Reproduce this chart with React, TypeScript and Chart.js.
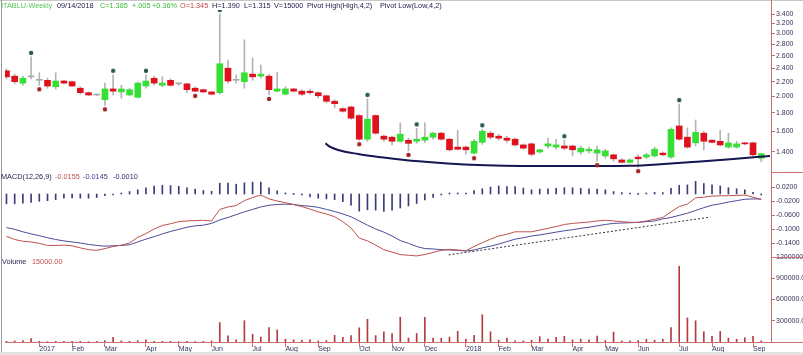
import React, { useEffect, useRef } from 'react';
import { Chart, registerables } from 'chart.js';

Chart.register(...registerables);

// ---------- weekly candles (Dec 9 2016 .. Sep 14 2018) ----------
const openP = [
  2.36, 2.28, 2.18, 2.27, 2.22, 2.22, 2.13, 2.21, 2.20, 2.11,
  2.05, 2.02, 1.96, 2.10, 2.06, 2.02, 1.99, 2.14, 2.25, 2.15,
  2.22, 2.17, 2.17, 2.11, 2.09, 2.06, 2.05, 2.40, 2.22, 2.20,
  2.31, 2.28, 2.28, 2.07, 2.03, 2.10, 2.07, 2.07, 2.05, 2.01,
  1.94, 1.85, 1.87, 1.77, 1.52, 1.77, 1.55, 1.54, 1.50, 1.51,
  1.50, 1.51, 1.54, 1.58, 1.52, 1.445, 1.445, 1.39, 1.49, 1.58,
  1.55, 1.53, 1.52, 1.465, 1.475, 1.40, 1.455, 1.445, 1.455, 1.455,
  1.40, 1.41, 1.39, 1.365, 1.375, 1.33, 1.31, 1.355, 1.355, 1.365,
  1.39, 1.355, 1.655, 1.54, 1.485, 1.58, 1.51, 1.50, 1.445, 1.445,
  1.485, 1.485, 1.345,
];
const highP = [
  2.39, 2.31, 2.28, 2.58, 2.33, 2.25, 2.33, 2.22, 2.21, 2.13,
  2.06, 2.03, 2.18, 2.30, 2.15, 2.11, 2.20, 2.30, 2.28, 2.27,
  2.24, 2.18, 2.18, 2.13, 2.10, 2.07, 3.40, 2.53, 2.30, 2.88,
  2.56, 2.45, 2.31, 2.34, 2.13, 2.11, 2.09, 2.09, 2.06, 2.02,
  1.96, 1.86, 1.88, 1.78, 1.97, 1.78, 1.56, 1.55, 1.69, 1.53,
  1.63, 1.69, 1.59, 1.59, 1.53, 1.61, 1.455, 1.52, 1.62, 1.60,
  1.57, 1.55, 1.53, 1.475, 1.485, 1.425, 1.53, 1.52, 1.51, 1.465,
  1.455, 1.445, 1.455, 1.425, 1.38, 1.34, 1.34, 1.375, 1.39, 1.445,
  1.40, 1.635, 1.905, 1.635, 1.72, 1.60, 1.52, 1.61, 1.58, 1.50,
  1.49, 1.49, 1.39,
];
const lowP = [
  2.24, 2.17, 2.15, 2.24, 2.15, 2.11, 2.10, 2.17, 2.13, 2.03,
  2.01, 2.01, 1.89, 2.02, 1.98, 2.01, 1.98, 2.11, 2.15, 2.13,
  2.14, 2.15, 2.05, 2.06, 2.05, 2.02, 2.03, 2.18, 2.18, 2.11,
  2.22, 2.25, 2.02, 2.06, 2.02, 2.06, 2.01, 2.03, 1.98, 1.92,
  1.86, 1.81, 1.73, 1.51, 1.50, 1.57, 1.50, 1.465, 1.49, 1.41,
  1.48, 1.49, 1.52, 1.51, 1.41, 1.42, 1.38, 1.38, 1.47, 1.52,
  1.51, 1.49, 1.455, 1.425, 1.365, 1.39, 1.435, 1.425, 1.42, 1.365,
  1.38, 1.39, 1.32, 1.345, 1.32, 1.305, 1.305, 1.27, 1.34, 1.355,
  1.365, 1.345, 1.51, 1.435, 1.455, 1.42, 1.485, 1.455, 1.435, 1.435,
  1.465, 1.365, 1.315,
];
const closeP = [
  2.27, 2.20, 2.25, 2.27, 2.22, 2.14, 2.21, 2.18, 2.14, 2.05,
  2.02, 2.02, 2.10, 2.07, 2.10, 2.09, 2.18, 2.21, 2.18, 2.18,
  2.15, 2.17, 2.09, 2.07, 2.06, 2.03, 2.47, 2.21, 2.22, 2.33,
  2.27, 2.31, 2.09, 2.10, 2.10, 2.07, 2.03, 2.05, 2.01, 1.94,
  1.91, 1.82, 1.74, 1.52, 1.73, 1.58, 1.52, 1.50, 1.57, 1.48,
  1.52, 1.54, 1.58, 1.52, 1.42, 1.425, 1.42, 1.50, 1.60, 1.54,
  1.53, 1.51, 1.465, 1.435, 1.38, 1.42, 1.475, 1.465, 1.435, 1.42,
  1.435, 1.425, 1.42, 1.41, 1.34, 1.31, 1.33, 1.34, 1.375, 1.425,
  1.375, 1.62, 1.52, 1.445, 1.59, 1.50, 1.49, 1.465, 1.485, 1.475,
  1.475, 1.375, 1.385,
];
const volume = [
  10000, 15000, 20000, 50000, 10000, 5000, 10000, 8000, 10000, 10000,
  5000, 8000, 20000, 65000, 15000, 10000, 20000, 30000, 8000, 10000,
  10000, 5000, 10000, 5000, 10000, 15000, 275000, 86000, 30000, 300000,
  110000, 70000, 205000, 170000, 40000, 30000, 25000, 30000, 15000, 20000,
  95000, 65000, 90000, 200000, 320000, 90000, 145000, 120000, 350000, 57000,
  120000, 350000, 55000, 55000, 70000, 150000, 40000, 95000, 385000, 145000,
  25000, 55000, 15000, 15000, 25000, 75000, 40000, 65000, 80000, 30000,
  40000, 30000, 85000, 20000, 140000, 15000, 15000, 20000, 40000, 25000,
  40000, 205000, 1070000, 340000, 300000, 145000, 80000, 150000, 55000, 40000,
  60000, 80000, 15000,
];
const macdLine = [
  -0.121, -0.130, -0.135, -0.137, -0.141, -0.147, -0.147, -0.146, -0.148, -0.154,
  -0.159, -0.161, -0.156, -0.150, -0.146, -0.140, -0.124, -0.113, -0.100, -0.090,
  -0.085, -0.079, -0.077, -0.076, -0.075, -0.077, -0.044, -0.037, -0.033, -0.019,
  -0.010, -0.003, -0.014, -0.020, -0.025, -0.030, -0.036, -0.043, -0.051, -0.057,
  -0.065, -0.079, -0.097, -0.126, -0.134, -0.146, -0.159, -0.166, -0.173, -0.175,
  -0.177, -0.173, -0.167, -0.161, -0.158, -0.160, -0.162, -0.150, -0.139, -0.129,
  -0.120, -0.115, -0.108, -0.108, -0.108, -0.103, -0.098, -0.093, -0.087, -0.084,
  -0.082, -0.080, -0.077, -0.075, -0.077, -0.079, -0.081, -0.081, -0.077, -0.072,
  -0.067, -0.051, -0.036, -0.029, -0.011, -0.009, -0.006, -0.005, -0.005, -0.004,
  -0.003, -0.009, -0.0155,
];
const signalLine = [
  -0.096, -0.101, -0.108, -0.114, -0.119, -0.125, -0.130, -0.134, -0.137, -0.140,
  -0.144, -0.147, -0.149, -0.148, -0.147, -0.145, -0.137, -0.129, -0.122, -0.114,
  -0.107, -0.101, -0.095, -0.091, -0.089, -0.084, -0.074, -0.067, -0.059, -0.051,
  -0.044, -0.037, -0.032, -0.030, -0.029, -0.030, -0.033, -0.035, -0.038, -0.044,
  -0.050, -0.057, -0.065, -0.077, -0.089, -0.100, -0.109, -0.120, -0.133, -0.141,
  -0.150, -0.156, -0.157, -0.159, -0.160, -0.161, -0.163, -0.160, -0.154, -0.149,
  -0.143, -0.136, -0.129, -0.125, -0.120, -0.117, -0.113, -0.109, -0.105, -0.102,
  -0.098, -0.095, -0.091, -0.087, -0.084, -0.083, -0.082, -0.081, -0.079, -0.077,
  -0.071, -0.067, -0.061, -0.055, -0.047, -0.039, -0.032, -0.028, -0.023, -0.019,
  -0.015, -0.014, -0.0145,
];
const macdHist = [
  -0.028, -0.028, -0.026, -0.024, -0.021, -0.019, -0.016, -0.012, -0.011, -0.012,
  -0.012, -0.010, -0.005, -0.001, 0.002, 0.007, 0.012, 0.018, 0.023, 0.025,
  0.024, 0.022, 0.018, 0.014, 0.010, 0.008, 0.031, 0.031, 0.028, 0.032,
  0.034, 0.034, 0.018, 0.009, 0.003, 0.000, -0.003, -0.008, -0.012, -0.014,
  -0.016, -0.022, -0.032, -0.049, -0.045, -0.046, -0.050, -0.046, -0.040, -0.034,
  -0.027, -0.017, -0.010, -0.002, 0.002, 0.001, 0.001, 0.010, 0.015, 0.020,
  0.023, 0.021, 0.021, 0.017, 0.012, 0.014, 0.015, 0.016, 0.018, 0.018,
  0.016, 0.015, 0.014, 0.012, 0.007, 0.004, 0.001, 0.000, 0.002, 0.005,
  0.004, 0.016, 0.025, 0.026, 0.036, 0.030, 0.026, 0.023, 0.018, 0.015,
  0.012, 0.005, -0.001,
];
const pivotHighIdx = [3, 13, 17, 26, 44, 50, 58, 68, 82];
const pivotLowIdx = [4, 12, 23, 32, 43, 49, 57, 72, 77];

// hand-drawn annotations (week index, value)
const arcX = [38.88, 39.4, 40.43, 42.86, 45.69, 48.52, 52.58, 56.62, 60.67, 65.13, 72.02, 76.06, 80.11, 84.17, 88.21, 93.07];
const arcY = [1.481, 1.449, 1.418, 1.382, 1.353, 1.33, 1.307, 1.29, 1.282, 1.28, 1.28, 1.282, 1.296, 1.315, 1.336, 1.365];
const trendX = [53.9, 85.8];
const trendY = [-0.174, -0.066];

// axes
const monthTickIdx = [4, 8, 12, 17, 21, 25, 30, 34, 38, 43, 47, 51, 56, 60, 64, 69, 73, 77, 82, 86, 91];
const monthTickLabels = ['2017', 'Feb', 'Mar', 'Apr', 'May', 'Jun', 'Jul', 'Aug', 'Sep', 'Oct', 'Nov', 'Dec', '2018', 'Feb', 'Mar', 'Apr', 'May', 'Jun', 'Jul', 'Aug', 'Sep'];
const priceTicks = [1.4, 1.6, 1.8, 2.0, 2.2, 2.4, 2.6, 2.8, 3.0, 3.2, 3.4];
const macdTicks = [0.02, -0.02, -0.06, -0.1, -0.14];
const volumeTicks = [300000, 600000, 900000, 1200000];

// texts
const headerParts: [string, number, string][] = [
  ['ITABLU-Weekly', 1, '#5cc45c'],
  ['09/14/2018', 57, '#1c1c4c'],
  ['C=1.385', 100, '#3cba3c'],
  ['+.005', 132, '#3cba3c'],
  ['+0.36%', 152, '#3cba3c'],
  ['O=1.345', 180, '#c84444'],
  ['H=1.390', 212, '#1c1c4c'],
  ['L=1.315', 244, '#1c1c4c'],
  ['V=15000', 274, '#1c1c4c'],
  ['Pivot High(High,4,2)', 307, '#1c1c4c'],
  ['Pivot Low(Low,4,2)', 380, '#1c1c4c'],
];
const macdParts: [string, number, string][] = [
  ['MACD(12,26,9)', 1, '#1c1c4c'],
  ['-0.0155', 55, '#c05050'],
  ['-0.0145', 83, '#3c3c8c'],
  ['-0.0010', 113, '#2c2c6c'],
];
const volParts: [string, number, string][] = [
  ['Volume', 2, '#1c1c4c'],
  ['15000.00', 32, '#c05050'],
];

const FONT = '"Liberation Sans", Arial, sans-serif';
const AXIS = '#cc7070';
const TXT = '#33335a';
const GREEN = '#35e035';
const RED = '#e0101c';
const DOJI = '#a8a8a8';

function makeDot(color: string, dy: number) {
  const r = 2.2;
  const h = 2 * Math.ceil(Math.abs(dy) + r + 1);
  const w = 8;
  const c = document.createElement('canvas');
  c.width = w;
  c.height = h;
  const g = c.getContext('2d');
  if (g) {
    g.fillStyle = color;
    g.beginPath();
    g.arc(w / 2, h / 2 + dy, r, 0, Math.PI * 2);
    g.fill();
  }
  return c;
}

const decorPlugin = {
  id: 'decor',
  afterDraw(chart: any) {
    const { ctx, chartArea } = chart;
    const W = chart.width;
    ctx.save();
    const hline = (x1: number, y: number, x2: number, color: string) => {
      ctx.strokeStyle = color;
      ctx.lineWidth = 1;
      ctx.beginPath();
      ctx.moveTo(x1, Math.round(y) + 0.5);
      ctx.lineTo(x2, Math.round(y) + 0.5);
      ctx.stroke();
    };
    // frame
    hline(0, 0, W, '#c8c8c8');
    ctx.strokeStyle = '#9a9a9a';
    ctx.beginPath();
    ctx.moveTo(1.5, 0);
    ctx.lineTo(1.5, 352);
    ctx.stroke();
    ctx.strokeStyle = AXIS;
    ctx.beginPath();
    ctx.moveTo(Math.round(chartArea.right) + 0.5, 0);
    ctx.lineTo(Math.round(chartArea.right) + 0.5, chartArea.top);
    ctx.stroke();
    // panel separators in the axis area
    const s = chart.scales;
    [s.y2.top, s.yv.top, s.x.top].forEach((y: number) => hline(chartArea.right, y - 0.5, W, AXIS));
    ctx.fillStyle = '#e2e2e2';
    ctx.fillRect(0, 352, W, 3);
    // texts
    ctx.font = '7.3px ' + FONT;
    ctx.textBaseline = 'middle';
    ctx.textAlign = 'left';
    const put = (parts: [string, number, string][], y: number) => {
      parts.forEach(([t, x, c]) => {
        ctx.fillStyle = c;
        ctx.fillText(t, x, y);
      });
    };
    put(headerParts, 6);
    put(macdParts, 177);
    put(volParts, 262);
    ctx.restore();
  },
};

export default function App() {
  const canvasRef = useRef<HTMLCanvasElement | null>(null);

  useEffect(() => {
    document.body.style.margin = '0';
    const canvas = canvasRef.current;
    if (!canvas) return;

    const idx = closeP.map((_, i) => i);
    const wickData = idx.map((i) => ({ x: i, y: [lowP[i], highP[i]] }));
    const bodyData = idx.map((i) => ({ x: i, y: [Math.min(openP[i], closeP[i]), Math.max(openP[i], closeP[i])] }));
    const bodyColors = idx.map((i) => (closeP[i] > openP[i] ? GREEN : closeP[i] < openP[i] ? RED : DOJI));
    const volData = idx.map((i) => ({ x: i, y: volume[i] }));
    const histData = idx.map((i) => ({ x: i, y: macdHist[i] }));
    const macdData = idx.map((i) => ({ x: i, y: macdLine[i] }));
    const sigData = idx.map((i) => ({ x: i, y: signalLine[i] }));
    const arcData = arcX.map((x, k) => ({ x, y: arcY[k] }));
    const trendData = trendX.map((x, k) => ({ x, y: trendY[k] }));
    const phData = pivotHighIdx.map((i) => ({ x: i, y: highP[i] }));
    const plData = pivotLowIdx.map((i) => ({ x: i, y: lowP[i] }));

    const yTickBase = {
      autoSkip: false,
      padding: 1,
      color: TXT,
      font: { size: 7, family: FONT },
    };
    const yGrid = { display: true, drawOnChartArea: false, drawTicks: true, tickLength: 4, color: AXIS };
    const yBorder = { display: true, color: AXIS };
    const fitW = (sc: any) => {
      sc.width = 32;
    };

    const chart = new Chart(canvas, {
      type: 'bar',
      data: {
        datasets: [
          {
            type: 'line',
            label: 'Pivot High',
            data: phData,
            yAxisID: 'y',
            showLine: false,
            pointStyle: makeDot('#285858', -4),
            pointRadius: 3,
            clip: { left: 5, top: 0, right: 5, bottom: 5 },
          },
          {
            type: 'line',
            label: 'Pivot Low',
            data: plData,
            yAxisID: 'y',
            showLine: false,
            pointStyle: makeDot('#a52020', 4),
            pointRadius: 3,
            clip: { left: 5, top: 0, right: 5, bottom: 5 },
          },
          {
            type: 'line',
            label: 'Arc',
            data: arcData,
            yAxisID: 'y',
            borderColor: '#161650',
            borderWidth: 2,
            pointRadius: 0,
            cubicInterpolationMode: 'monotone',
            fill: false,
          },
          {
            type: 'bar',
            label: 'Body',
            data: bodyData,
            yAxisID: 'y',
            backgroundColor: bodyColors,
            borderWidth: 0,
            barThickness: 6,
            minBarLength: 1,
            grouped: false,
          },
          {
            type: 'bar',
            label: 'Wick',
            data: wickData,
            yAxisID: 'y',
            backgroundColor: '#b4b4b4',
            borderWidth: 0,
            barThickness: 1,
            grouped: false,
          },
          {
            type: 'line',
            label: 'MACD',
            data: macdData,
            yAxisID: 'y2',
            borderColor: '#c0504d',
            borderWidth: 1,
            pointRadius: 0,
            tension: 0,
          },
          {
            type: 'line',
            label: 'Signal',
            data: sigData,
            yAxisID: 'y2',
            borderColor: '#4b4b9b',
            borderWidth: 1,
            pointRadius: 0,
            tension: 0,
          },
          {
            type: 'line',
            label: 'Trend',
            data: trendData,
            yAxisID: 'y2',
            borderColor: '#333340',
            borderWidth: 1,
            borderDash: [2, 2],
            pointRadius: 0,
          },
          {
            type: 'bar',
            label: 'Histogram',
            data: histData,
            yAxisID: 'y2',
            backgroundColor: '#3c3c7c',
            borderWidth: 0,
            barThickness: 1,
            minBarLength: 1,
            grouped: false,
          },
          {
            type: 'bar',
            label: 'Volume',
            data: volData,
            yAxisID: 'yv',
            backgroundColor: '#b43c3c',
            borderWidth: 0,
            barThickness: 1,
            grouped: false,
          },
        ] as any,
      },
      options: {
        responsive: false,
        animation: false,
        events: [],
        layout: { padding: { left: 2, top: 10, right: 0, bottom: 0 } },
        plugins: {
          legend: { display: false },
          tooltip: { enabled: false },
          title: { display: false },
        },
        scales: {
          x: {
            type: 'linear',
            position: 'bottom',
            min: -0.18,
            max: 93.19,
            offset: false,
            grid: { display: true, offset: false, drawOnChartArea: false, drawTicks: true, tickLength: 5, color: AXIS },
            border: { display: true, color: AXIS },
            ticks: {
              autoSkip: false,
              maxRotation: 0,
              minRotation: 0,
              align: 'start',
              padding: -2,
              color: TXT,
              font: { size: 7, family: FONT },
              callback: (_v: any, i: number) => monthTickLabels[i] ?? '',
            },
            afterBuildTicks: (sc: any) => {
              sc.ticks = monthTickIdx.map((v) => ({ value: v }));
            },
            afterFit: (sc: any) => {
              sc.height = 13;
            },
          },
          y: {
            type: 'logarithmic',
            position: 'right',
            stack: 'panels',
            stackWeight: 162,
            min: 1.231,
            max: 3.489,
            offset: false,
            grid: yGrid,
            border: yBorder,
            ticks: { ...yTickBase, callback: (v: any) => Number(v).toFixed(3) },
            afterBuildTicks: (sc: any) => {
              sc.ticks = priceTicks.map((v) => ({ value: v }));
            },
            afterFit: fitW,
          },
          y2: {
            type: 'linear',
            position: 'right',
            stack: 'panels',
            stackWeight: 85,
            min: -0.18,
            max: 0.0629,
            offset: false,
            grid: yGrid,
            border: yBorder,
            ticks: { ...yTickBase, callback: (v: any) => Number(v).toFixed(4) },
            afterBuildTicks: (sc: any) => {
              sc.ticks = macdTicks.map((v) => ({ value: v }));
            },
            afterFit: fitW,
          },
          yv: {
            type: 'linear',
            position: 'right',
            stack: 'panels',
            stackWeight: 85,
            min: 0,
            max: 1200000,
            offset: false,
            grid: yGrid,
            border: yBorder,
            ticks: { ...yTickBase, callback: (v: any) => Number(v).toFixed(2) },
            afterBuildTicks: (sc: any) => {
              sc.ticks = volumeTicks.map((v) => ({ value: v }));
            },
            afterFit: fitW,
          },
        },
      } as any,
      plugins: [decorPlugin],
    });

    return () => chart.destroy();
  }, []);

  return (
    <div style={{ width: 803, height: 355, background: '#ffffff' }}>
      <canvas ref={canvasRef} width={803} height={355} style={{ display: 'block', width: 803, height: 355 }} />
    </div>
  );
}
